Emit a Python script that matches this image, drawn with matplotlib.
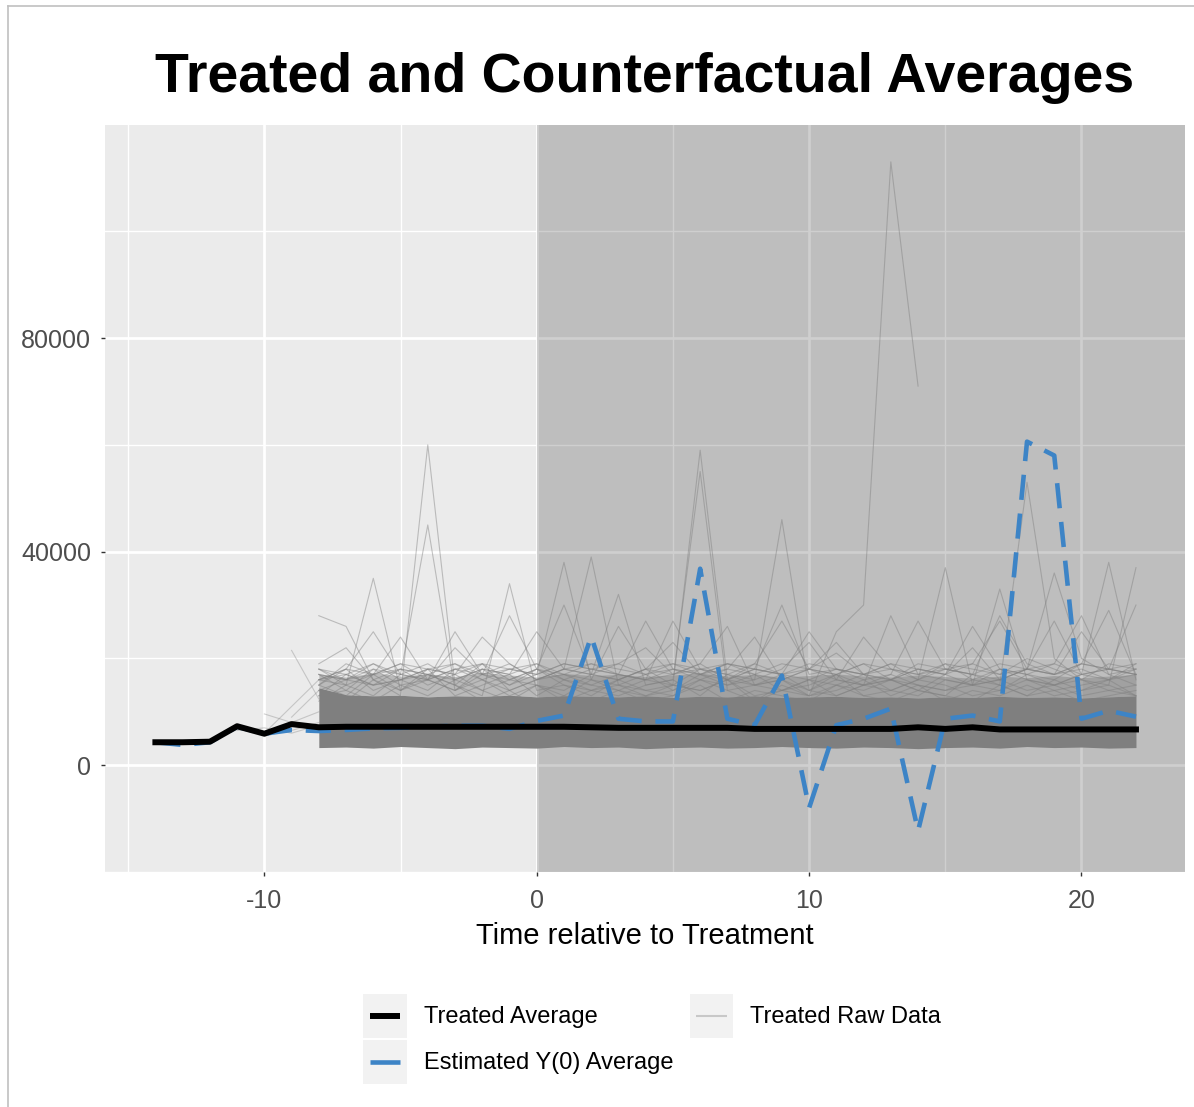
import numpy as np
import matplotlib.pyplot as plt
from matplotlib.lines import Line2D
from matplotlib.patches import Rectangle
from matplotlib.legend_handler import HandlerBase

plt.rcParams['font.family'] = ['Liberation Sans', 'DejaVu Sans']
plt.rcParams['axes.unicode_minus'] = False

nan = np.nan

# time relative to treatment
avg_t = list(range(-14, 23))
# treated average (black)
treated_avg = [4300, 4300, 4400, 7300, 5900, 7700, 7100, 7200, 7200, 7200, 7200, 7200, 7200,
               7200, 7200, 7200, 7100, 7000, 7000, 7000, 7000, 7000, 6800, 6800, 6800, 6800,
               6800, 6800, 7100, 6800, 7100, 6700, 6700, 6700, 6700, 6700, 6700]
# estimated Y(0) average (blue dashed)
y0_avg = [4300, 3800, 4300, 7200, 5900, 6600, 6400, 6600, 6900, 7000, 7200, 7400, 7400,
          6800, 8300, 9300, 24100, 8700, 8200, 8200, 36800, 8700, 7500, 16800, -8000, 7500,
          8700, 10600, -12300, 8700, 9300, 8200, 60600, 58000, 8700, 10200, 9100]

# raw treated units, t = -8 .. 22, values in thousands
raw_t = list(range(-8, 23))
band_low = [3.3, 3.4, 3.2, 3.5, 3.3, 3.1, 3.4, 3.3, 3.2, 3.5, 3.3, 3.4, 3.1, 3.3, 3.4, 3.2,
            3.3, 3.5, 3.3, 3.2, 3.4, 3.3, 3.1, 3.3, 3.4, 3.2, 3.5, 3.3, 3.4, 3.2, 3.3]
band_core = [14.5, 13.2, 13.0, 13.1, 12.8, 13.0, 12.9, 13.1, 12.8, 13.0, 12.9, 12.8, 13.0, 12.7,
             12.9, 12.8, 13.0, 12.7, 12.8, 12.9, 12.7, 12.8, 12.6, 12.8, 12.7, 12.9, 12.7,
             12.8, 12.6, 12.8, 13.0]
band_halo = [17.0, 16.5, 17.3, 16.7, 17.1, 16.6, 17.4, 16.9, 16.5, 17.2, 16.8, 17.0, 16.6, 16.9,
             17.3, 16.7, 17.0, 16.5, 16.8, 17.1, 16.7, 16.5, 16.9, 16.6, 16.3, 16.7, 16.4,
             16.8, 16.4, 16.7, 17.0]

r01 = [14, 12, 16, 13, 60, 15, 12, 14, 11, 13, 12, 14, 12, 13, 15, 12, 14, 13, 12, 15, 13, 12, 14, 13, 12, 15, 13, 14, 12, 13, 14]
r02 = [12, 15, 13, 17, 45, 14, 16, 13, 15, 12, 14, 13, 15, 16, 55, 14, 12, 15, 13, 14, 16, 13, 15, 12, 14, 13, 15, 13, 14, 16, 13]
r03 = [16, 15, 35, 14, 18, 13, 15, 17, 13, 16, 14, 15, 13, 14, 17, 15, 16, 46, 14, 13, 15, 16, 14, 13, 17, 15, 13, 16, 14, 15, 13]
r04 = [28, 26, 16, 14, 17, 15, 13, 34, 14, 15, 13, 16, 14, 15, 59, 16, 13, 14, 15, 17, 13, 14, 16, 15, 13, 14, 16, 15, 13, 14, 15]
r05 = [13, 14, 12, 15, 13, 16, 14, 12, 15, 13, 16, 14, 13, 15, 14, 16, 12, 14, 13, 25, 30, 113, 71, nan, nan, nan, nan, nan, nan, nan, nan]
r06 = [15, 13, 17, 14, 16, 14, 18, 15, 17, 38, 16, 15, 14, 13, 16, 15, 17, 14, 16, 13, 15, 14, 16, 37, 15, 14, 17, 15, 16, 14, 13]
r07 = [13, 17, 15, 16, 14, 18, 16, 14, 16, 18, 39, 15, 17, 14, 16, 14, 15, 16, 13, 15, 14, 16, 15, 14, 15, 16, 14, 15, 17, 38, 16]
r08 = [17, 14, 18, 15, 16, 14, 17, 16, 15, 14, 17, 32, 15, 16, 13, 17, 15, 14, 16, 15, 17, 14, 13, 16, 15, 33, 16, 14, 15, 16, 17]
r09 = [14, 16, 15, 18, 15, 17, 14, 16, 18, 15, 14, 16, 18, 15, 14, 16, 15, 17, 14, 16, 15, 17, 15, 14, 16, 15, 53, 20, 16, 15, 37]
r10 = [15, 18, 14, 16, 17, 15, 19, 14, 16, 17, 15, 14, 16, 17, 19, 26, 15, 16, 14, 17, 15, 16, 14, 17, 15, 16, 18, 36, 20, 17, 15]
r11 = [18, 15, 17, 24, 16, 25, 17, 15, 18, 16, 15, 17, 16, 15, 18, 17, 16, 18, 23, 16, 15, 28, 17, 16, 15, 18, 16, 15, 17, 16, 18]
r12 = [16, 17, 15, 16, 18, 17, 24, 19, 16, 18, 17, 16, 18, 23, 17, 16, 18, 17, 16, 18, 17, 16, 18, 17, 22, 16, 18, 17, 25, 18, 17]
r13 = [17, 16, 19, 17, 16, 18, 17, 18, 17, 19, 18, 17, 16, 18, 17, 19, 18, 30, 17, 18, 16, 17, 27, 18, 17, 19, 18, 17, 19, 18, 17]
r14 = [15, 19, 17, 18, 17, 16, 18, 17, 19, 16, 18, 19, 17, 18, 16, 18, 17, 19, 18, 21, 17, 18, 16, 19, 18, 17, 20, 18, 16, 19, 18]
r15 = [18, 17, 19, 16, 18, 19, 17, 28, 18, 17, 19, 18, 17, 19, 18, 17, 19, 27, 18, 17, 19, 18, 17, 18, 19, 17, 18, 19, 17, 18, 19]
r16 = [16, 18, 17, 19, 18, 17, 19, 18, 17, 19, 18, 17, 27, 18, 17, 19, 18, 17, 19, 18, 17, 19, 18, 17, 19, 27, 18, 17, 19, 18, 17]
r17 = [17, 16, 18, 17, 19, 16, 18, 17, 25, 18, 17, 19, 22, 17, 18, 16, 19, 17, 18, 16, 24, 18, 17, 19, 16, 18, 17, 19, 28, 17, 18]
r18 = [16, 18, 25, 17, 16, 18, 19, 16, 18, 30, 17, 16, 18, 19, 17, 18, 24, 16, 18, 17, 19, 16, 18, 17, 26, 18, 17, 16, 19, 29, 17]
r19 = [18, 16, 17, 19, 16, 22, 17, 19, 16, 18, 19, 17, 16, 27, 18, 19, 17, 16, 18, 23, 17, 19, 16, 18, 17, 28, 19, 17, 18, 16, 19]
r20 = [19, 22, 16, 18, 17, 19, 16, 18, 19, 17, 16, 26, 18, 17, 19, 16, 18, 17, 25, 18, 17, 16, 19, 18, 17, 16, 18, 27, 17, 18, 30]
raw_units = [r01, r02, r03, r04, r05, r06, r07, r08, r09, r10,
             r11, r12, r13, r14, r15, r16, r17, r18, r19, r20]

# units observed before t = -8, values in thousands
early_t = [-11, -10, -9, -8]
e01 = [6.5, 7.0, 6.0, 7.5]
e02 = [nan, 9.6, 8.0, 10.0]
e03 = [nan, nan, 21.5, 12.4]
e04 = [nan, 6.0, 11.0, 16.0]
e05 = [nan, nan, 9.0, 14.0]
e06 = [nan, 5.5, 6.5, 8.0]
early_units = [e01, e02, e03, e04, e05, e06]

raw_color = '#7f7f7f'
blue = '#3d84c6'


class KeyHandler(HandlerBase):
    # ggplot-like legend key: grey square with a short line in the middle
    def create_artists(self, legend, orig_handle, xdescent, ydescent, width, height,
                       fontsize, trans):
        bg = Rectangle((-xdescent, -ydescent), width, height, facecolor='#f2f2f2',
                       edgecolor='none', transform=trans)
        y = -ydescent + height / 2
        ln = Line2D([-xdescent + 0.15 * width, -xdescent + 0.85 * width], [y, y],
                    color=orig_handle.get_color(), lw=orig_handle.get_linewidth(),
                    linestyle='-', solid_capstyle='butt', transform=trans)
        return [bg, ln]


fig = plt.figure(figsize=(11.94, 11.07), dpi=100)
ax = fig.add_axes([105 / 1194, 1 - 872 / 1107, 1080 / 1194, 747 / 1107])
ax.set_facecolor('#ebebeb')

# treatment period shading
ax.axvspan(0, 40, color='black', alpha=0.19, lw=0, zorder=1)

ax.fill_between(raw_t, np.array(band_core) * 1000, np.array(band_halo) * 1000,
                color=raw_color, alpha=0.45, lw=0, zorder=2)
ax.fill_between(raw_t, np.array(band_low) * 1000, np.array(band_core) * 1000,
                color=raw_color, lw=0, zorder=2)
for u in raw_units:
    ax.plot(raw_t, np.array(u, dtype=float) * 1000, color=raw_color, alpha=0.45, lw=0.8, zorder=2)
for u in early_units:
    ax.plot(early_t, np.array(u, dtype=float) * 1000, color=raw_color, alpha=0.35, lw=0.8, zorder=2)

ax.plot(avg_t, y0_avg, color=blue, lw=3.3, dashes=(5.5, 3), zorder=3)
ax.plot(avg_t, treated_avg, color='black', lw=4.3, zorder=4, solid_joinstyle='round')

ax.set_xlim(-15.85, 23.8)
ax.set_ylim(-19200, 119900)
ax.set_xticks([-10, 0, 10, 20])
ax.set_xticks([-15, -5, 5, 15], minor=True)
ax.set_yticks([0, 40000, 80000])
ax.set_yticks([-20000, 20000, 60000, 100000], minor=True)
ax.set_axisbelow(True)
ax.grid(which='major', color='white', lw=2.0)
ax.grid(which='minor', color='white', lw=1.0)
for s in ax.spines.values():
    s.set_visible(False)
ax.tick_params(which='major', length=3, width=1, color='#333333', labelsize=18,
               labelcolor='#4d4d4d', pad=7)
ax.tick_params(axis='x', which='major', pad=9)
ax.tick_params(which='minor', length=0)

ax.set_xlabel('Time relative to Treatment', fontsize=21, labelpad=7)
fig.text(645 / 1194, 1 - 92 / 1107, 'Treated and Counterfactual Averages',
         fontsize=40, fontweight='bold', ha='center', va='baseline')

h_avg = Line2D([], [], color='black', lw=4.3)
h_y0 = Line2D([], [], color=blue, lw=3.3)
h_raw = Line2D([], [], color='#c8c8c8', lw=1.5)
fig.legend([h_avg, h_y0, h_raw],
           ['Treated Average', 'Estimated Y(0) Average', 'Treated Raw Data'],
           handler_map={Line2D: KeyHandler()},
           loc='center', bbox_to_anchor=(652 / 1194, 1 - 1039 / 1107), ncol=2,
           frameon=False, fontsize=17, handlelength=1.86, handleheight=2.49,
           handletextpad=0.7, columnspacing=0.7, labelspacing=0.1)

# outer frame of the screenshot
fig.add_artist(Line2D([7.5 / 1194, 7.5 / 1194], [0, 1 - 6 / 1107], color='#c0c0c0', lw=1.2))
fig.add_artist(Line2D([7.5 / 1194, 1], [1 - 6 / 1107, 1 - 6 / 1107], color='#c0c0c0', lw=1.2))

fig.savefig('out.png', dpi=100)
